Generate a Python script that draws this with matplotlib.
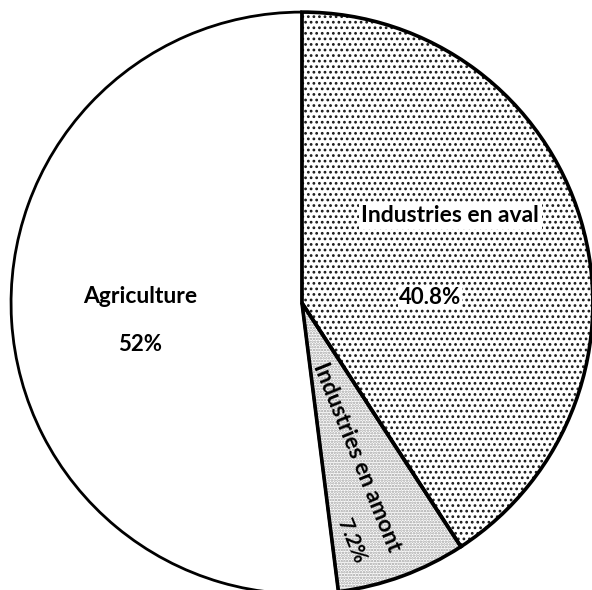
import matplotlib
matplotlib.use("Agg")
import matplotlib.pyplot as plt

# shares of the three sectors (clockwise from 12 o'clock)
sectors = ["Industries en aval", "Industries en amont", "Agriculture"]
shares = [40.8, 7.2, 52.0]
share_labels = ["40.8%", "7.2%", "52%"]

plt.rcParams["font.family"] = ["Lato", "DejaVu Sans"]
plt.rcParams["hatch.linewidth"] = 1.2

fig = plt.figure(figsize=(5.92, 5.90), dpi=100)
ax = fig.add_axes([0, 0, 1, 1])

# first pass: textures (hatch colour follows edgecolor, so no outline here)
fill, _ = ax.pie(shares, startangle=90, counterclock=False, radius=1.0,
                 colors=["white", "white", "white"],
                 wedgeprops=dict(linewidth=0))
fill[0].set_hatch("...")
fill[0].set_edgecolor("#1a1a1a")
fill[1].set_hatch("......")
fill[1].set_edgecolor("#a0a0a0")
fill[2].set_edgecolor("white")

# second pass: black outlines
lines, _ = ax.pie(shares, startangle=90, counterclock=False, radius=1.0,
                  wedgeprops=dict(fill=False, edgecolor="black", linewidth=2))
lines[0].set_linewidth(2.6)
lines[1].set_linewidth(2.6)

# labels
ax.text(0.51, 0.30, sectors[0], ha="center", va="center", fontsize=16.5,
        fontweight="bold",
        bbox=dict(facecolor="white", edgecolor="none", pad=2))
ax.text(0.44, 0.02, share_labels[0], ha="center", va="center", fontsize=16,
        fontweight="bold",
        bbox=dict(facecolor="white", edgecolor="none", pad=1))
ax.text(0.19, -0.53, sectors[1], ha="center", va="center", fontsize=16.5,
        fontweight="bold", rotation=-68, rotation_mode="anchor")
ax.text(0.17, -0.82, share_labels[1], ha="center", va="center", fontsize=15,
        fontweight="bold", rotation=-68, rotation_mode="anchor")
ax.text(-0.557, 0.024, sectors[2], ha="center", va="center", fontsize=16.5,
        fontweight="bold")
ax.text(-0.557, -0.144, share_labels[2], ha="center", va="center",
        fontsize=16, fontweight="bold")

ax.set_xlim(-1.038, 0.997)
ax.set_ylim(-0.986, 1.041)
ax.set_aspect("equal")
ax.axis("off")

fig.savefig("out.png", dpi=100, facecolor="white")
